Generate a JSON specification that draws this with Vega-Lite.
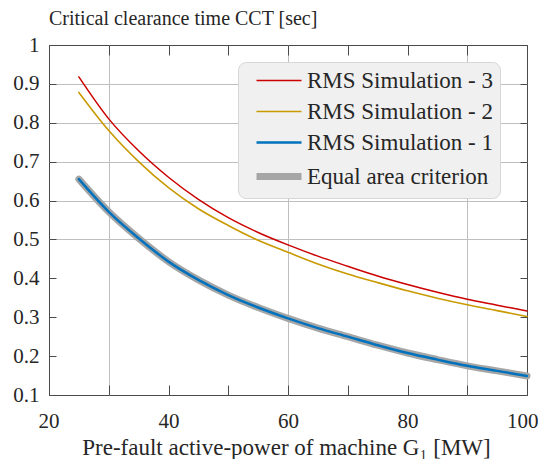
{
  "$schema": "https://vega.github.io/schema/vega-lite/v6.json",
  "width": 478,
  "height": 350,
  "autosize": {"type": "none"},
  "padding": {"left": 49, "top": 45, "right": 13, "bottom": 64},
  "background": "white",
  "title": {
    "text": "Critical clearance time CCT [sec]",
    "anchor": "start",
    "frame": "group",
    "baseline": "bottom",
    "offset": 13,
    "dy": 28,
    "fontSize": 20,
    "fontWeight": "normal",
    "font": "Liberation Serif, Tinos, Times New Roman, DejaVu Serif, serif",
    "color": "#262626"
  },
  "config": {
    "view": {"stroke": "#4a4a4a", "strokeWidth": 1},
    "font": "Liberation Serif, Tinos, Times New Roman, DejaVu Serif, serif",
    "axis": {"labelFont": "Liberation Serif, Tinos, Times New Roman, DejaVu Serif, serif", "titleFont": "Liberation Serif, Tinos, Times New Roman, DejaVu Serif, serif", "labelColor": "#262626", "titleColor": "#262626", "titleFontWeight": "normal", "tickColor": "#4a4a4a", "gridColor": "#bfbfbf", "gridWidth": 1, "domain": false},
    "legend": {"labelFont": "Liberation Serif, Tinos, Times New Roman, DejaVu Serif, serif"}
  },
  "datasets": {
    "curves": [
      {"p": 25, "cct": 0.655, "series": "Equal area criterion"},
      {"p": 30, "cct": 0.571, "series": "Equal area criterion"},
      {"p": 35, "cct": 0.503, "series": "Equal area criterion"},
      {"p": 40, "cct": 0.443, "series": "Equal area criterion"},
      {"p": 45, "cct": 0.396, "series": "Equal area criterion"},
      {"p": 50, "cct": 0.357, "series": "Equal area criterion"},
      {"p": 55, "cct": 0.325, "series": "Equal area criterion"},
      {"p": 60, "cct": 0.297, "series": "Equal area criterion"},
      {"p": 65, "cct": 0.272, "series": "Equal area criterion"},
      {"p": 70, "cct": 0.25, "series": "Equal area criterion"},
      {"p": 75, "cct": 0.228, "series": "Equal area criterion"},
      {"p": 80, "cct": 0.208, "series": "Equal area criterion"},
      {"p": 85, "cct": 0.191, "series": "Equal area criterion"},
      {"p": 90, "cct": 0.175, "series": "Equal area criterion"},
      {"p": 95, "cct": 0.162, "series": "Equal area criterion"},
      {"p": 100, "cct": 0.149, "series": "Equal area criterion"},
      {"p": 25, "cct": 0.655, "series": "RMS Simulation - 1"},
      {"p": 30, "cct": 0.571, "series": "RMS Simulation - 1"},
      {"p": 35, "cct": 0.503, "series": "RMS Simulation - 1"},
      {"p": 40, "cct": 0.443, "series": "RMS Simulation - 1"},
      {"p": 45, "cct": 0.396, "series": "RMS Simulation - 1"},
      {"p": 50, "cct": 0.357, "series": "RMS Simulation - 1"},
      {"p": 55, "cct": 0.325, "series": "RMS Simulation - 1"},
      {"p": 60, "cct": 0.297, "series": "RMS Simulation - 1"},
      {"p": 65, "cct": 0.272, "series": "RMS Simulation - 1"},
      {"p": 70, "cct": 0.25, "series": "RMS Simulation - 1"},
      {"p": 75, "cct": 0.228, "series": "RMS Simulation - 1"},
      {"p": 80, "cct": 0.208, "series": "RMS Simulation - 1"},
      {"p": 85, "cct": 0.191, "series": "RMS Simulation - 1"},
      {"p": 90, "cct": 0.175, "series": "RMS Simulation - 1"},
      {"p": 95, "cct": 0.162, "series": "RMS Simulation - 1"},
      {"p": 100, "cct": 0.149, "series": "RMS Simulation - 1"},
      {"p": 25, "cct": 0.878, "series": "RMS Simulation - 2"},
      {"p": 30, "cct": 0.78, "series": "RMS Simulation - 2"},
      {"p": 35, "cct": 0.7, "series": "RMS Simulation - 2"},
      {"p": 40, "cct": 0.633, "series": "RMS Simulation - 2"},
      {"p": 45, "cct": 0.579, "series": "RMS Simulation - 2"},
      {"p": 50, "cct": 0.536, "series": "RMS Simulation - 2"},
      {"p": 55, "cct": 0.498, "series": "RMS Simulation - 2"},
      {"p": 60, "cct": 0.467, "series": "RMS Simulation - 2"},
      {"p": 65, "cct": 0.437, "series": "RMS Simulation - 2"},
      {"p": 70, "cct": 0.411, "series": "RMS Simulation - 2"},
      {"p": 75, "cct": 0.389, "series": "RMS Simulation - 2"},
      {"p": 80, "cct": 0.368, "series": "RMS Simulation - 2"},
      {"p": 85, "cct": 0.349, "series": "RMS Simulation - 2"},
      {"p": 90, "cct": 0.332, "series": "RMS Simulation - 2"},
      {"p": 95, "cct": 0.317, "series": "RMS Simulation - 2"},
      {"p": 100, "cct": 0.302, "series": "RMS Simulation - 2"},
      {"p": 25, "cct": 0.918, "series": "RMS Simulation - 3"},
      {"p": 30, "cct": 0.81, "series": "RMS Simulation - 3"},
      {"p": 35, "cct": 0.728, "series": "RMS Simulation - 3"},
      {"p": 40, "cct": 0.66, "series": "RMS Simulation - 3"},
      {"p": 45, "cct": 0.603, "series": "RMS Simulation - 3"},
      {"p": 50, "cct": 0.556, "series": "RMS Simulation - 3"},
      {"p": 55, "cct": 0.518, "series": "RMS Simulation - 3"},
      {"p": 60, "cct": 0.486, "series": "RMS Simulation - 3"},
      {"p": 65, "cct": 0.457, "series": "RMS Simulation - 3"},
      {"p": 70, "cct": 0.431, "series": "RMS Simulation - 3"},
      {"p": 75, "cct": 0.406, "series": "RMS Simulation - 3"},
      {"p": 80, "cct": 0.384, "series": "RMS Simulation - 3"},
      {"p": 85, "cct": 0.364, "series": "RMS Simulation - 3"},
      {"p": 90, "cct": 0.346, "series": "RMS Simulation - 3"},
      {"p": 95, "cct": 0.331, "series": "RMS Simulation - 3"},
      {"p": 100, "cct": 0.316, "series": "RMS Simulation - 3"}
    ]
  },
  "data": {"name": "curves"},
  "layer": [
    {
      "mark": {"type": "line", "interpolate": "monotone", "strokeCap": "round", "strokeJoin": "round"},
      "encoding": {
        "x": {
          "field": "p", "type": "quantitative",
          "scale": {"domain": [20, 100], "nice": false, "zero": false},
          "axis": {
            "orient": "bottom",
            "values": [20, 30, 40, 50, 60, 70, 80, 90, 100],
            "labelExpr": "datum.value % 20 === 0 ? datum.label : ''",
            "labelFontSize": 21,
            "labelFlush": true,
            "labelFlushOffset": 11,
            "tickSize": -10,
            "labelPadding": 25,
            "grid": true,
            "gridOpacity": {"condition": {"test": "datum.value % 30 === 0", "value": 1}, "value": 0},
            "title": "Pre-fault active-power of machine G₁ [MW]",
            "titleFontSize": 23,
            "titleBaseline": "alphabetic",
            "titleX": 237,
            "titleY": 59
          }
        },
        "y": {
          "field": "cct", "type": "quantitative",
          "scale": {"domain": [0.1, 1], "nice": false, "zero": false},
          "axis": {
            "orient": "left",
            "values": [0.1, 0.2, 0.3, 0.4, 0.5, 0.6, 0.7, 0.8, 0.9, 1],
            "format": "~g",
            "labelFontSize": 21,
            "tickSize": -7,
            "labelPadding": 17,
            "grid": true,
            "gridOpacity": {"condition": {"test": "datum.value >= 0.45 && datum.value < 0.95", "value": 1}, "value": 0},
            "title": null
          }
        },
        "color": {
          "field": "series", "type": "ordinal",
          "scale": {
            "type": "ordinal",
            "domain": ["RMS Simulation - 3", "RMS Simulation - 2", "RMS Simulation - 1", "Equal area criterion"],
            "range": ["#cc0000", "#c99a00", "#0072bd", "#a6a6a6"]
          },
          "legend": {
            "title": null,
            "orient": "none",
            "legendX": 189,
            "legendY": 17,
            "symbolType": "M0,0H5.625",
            "symbolSize": 256,
            "labelFontSize": 23,
            "labelColor": "#262626",
            "labelLimit": 400,
            "labelOffset": 39,
            "rowPadding": 7,
            "padding": 7,
            "fillColor": "#f0f0f0",
            "strokeColor": "#d6d6d6",
            "cornerRadius": 8
          }
        },
        "strokeWidth": {
          "field": "series", "type": "ordinal",
          "scale": {
            "type": "ordinal",
            "domain": ["RMS Simulation - 3", "RMS Simulation - 2", "RMS Simulation - 1", "Equal area criterion"],
            "range": [1.5, 1.6, 2.5, 7]
          }
        },
        "order": {"field": "p", "type": "quantitative"}
      }
    },
    {
      "mark": {"type": "point", "opacity": 0},
      "encoding": {
        "x": {
          "field": "p", "type": "quantitative",
          "axis": {"orient": "top", "values": [20, 30, 40, 50, 60, 70, 80, 90, 100], "labels": false, "tickSize": -10, "grid": false, "title": null}
        },
        "y": {
          "field": "cct", "type": "quantitative",
          "axis": {"orient": "right", "values": [0.1, 0.2, 0.3, 0.4, 0.5, 0.6, 0.7, 0.8, 0.9, 1], "labels": false, "tickSize": -7, "grid": false, "title": null}
        }
      }
    }
  ],
  "resolve": {"axis": {"x": "independent", "y": "independent"}}
}
